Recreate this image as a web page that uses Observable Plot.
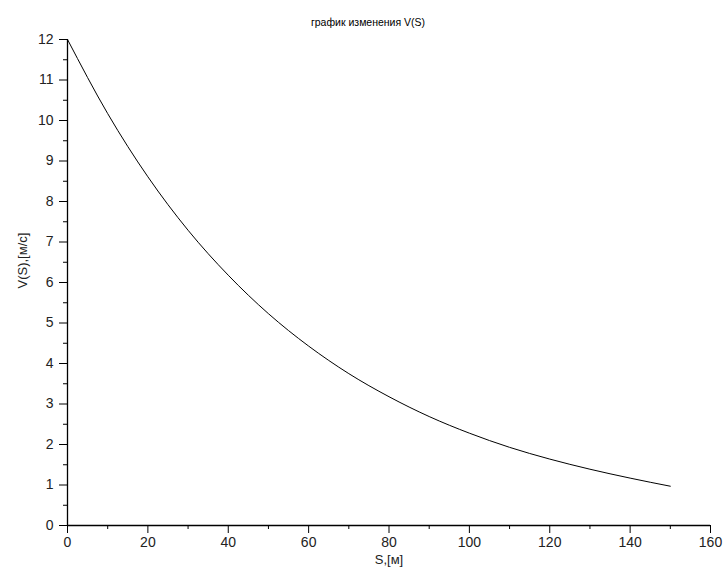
<!DOCTYPE html>
<html>
<head>
<meta charset="utf-8">
<script src="https://cdn.jsdelivr.net/npm/d3@7"></script>
<script src="https://cdn.jsdelivr.net/npm/@observablehq/plot@0.6"></script>
<style>
  html, body { margin: 0; padding: 0; background: #fff; }
  svg { display: block; }
</style>
</head>
<body>
<div id="chart"></div>
<script>
const titleText = "график изменения V(S)";
const xLabel = "S,[м]";
const yLabel = "V(S),[м/с]";

const S = [0, 10, 20, 30, 40, 50, 60, 70, 80, 90, 100, 110, 120, 130, 140, 150];
const V = [12, 10.17, 8.61, 7.29, 6.18, 5.23, 4.43, 3.75, 3.18, 2.69, 2.28, 1.93, 1.64, 1.39, 1.17, 0.97];

const xMajor = [0, 20, 40, 60, 80, 100, 120, 140, 160];
const xMinor = [10, 30, 50, 70, 90, 110, 130, 150];
const yMajor = [0, 1, 2, 3, 4, 5, 6, 7, 8, 9, 10, 11, 12];
const yMinor = [0.5, 1.5, 2.5, 3.5, 4.5, 5.5, 6.5, 7.5, 8.5, 9.5, 10.5, 11.5];

const data = S.map((s, i) => ({S: s, V: V[i]}));

const font = "Liberation Sans, Arial, sans-serif";

const chart = Plot.plot({
  width: 726,
  height: 571,
  marginLeft: 67,
  marginRight: 16,
  marginTop: 39,
  marginBottom: 46,
  style: {fontFamily: font, fontSize: "14px", color: "#000", background: "#fff"},
  x: {domain: [0, 160]},
  y: {domain: [0, 12]},
  marks: [
    Plot.axisX(xMajor, {tickSize: 8, tickPadding: 4, label: null, fontSize: 14, stroke: "#000", fill: "#222"}),
    Plot.axisX(xMinor, {tickSize: 4, tickFormat: () => "", label: null, stroke: "#000"}),
    Plot.axisY(yMajor, {tickSize: 8, tickPadding: 6, label: null, fontSize: 14, stroke: "#000", fill: "#222"}),
    Plot.axisY(yMinor, {tickSize: 4, tickFormat: () => "", label: null, stroke: "#000"}),
    Plot.ruleX([0], {stroke: "#000", strokeWidth: 1.3}),
    Plot.ruleY([0], {stroke: "#000", strokeWidth: 1.3}),
    Plot.line(data, {x: "S", y: "V", curve: "monotone-x", stroke: "#000", strokeWidth: 1}),
    Plot.text([titleText], {frameAnchor: "top", dy: -21, dx: -21, fontSize: 10.5, fill: "#000"}),
    Plot.text([xLabel], {frameAnchor: "bottom", dy: 38, fontSize: 13, fill: "#222"}),
    Plot.text([yLabel], {frameAnchor: "left", dx: -45, dy: 6, rotate: -90, fontSize: 13, fill: "#222"})
  ]
});
document.getElementById("chart").appendChild(chart);
</script>
</body>
</html>
